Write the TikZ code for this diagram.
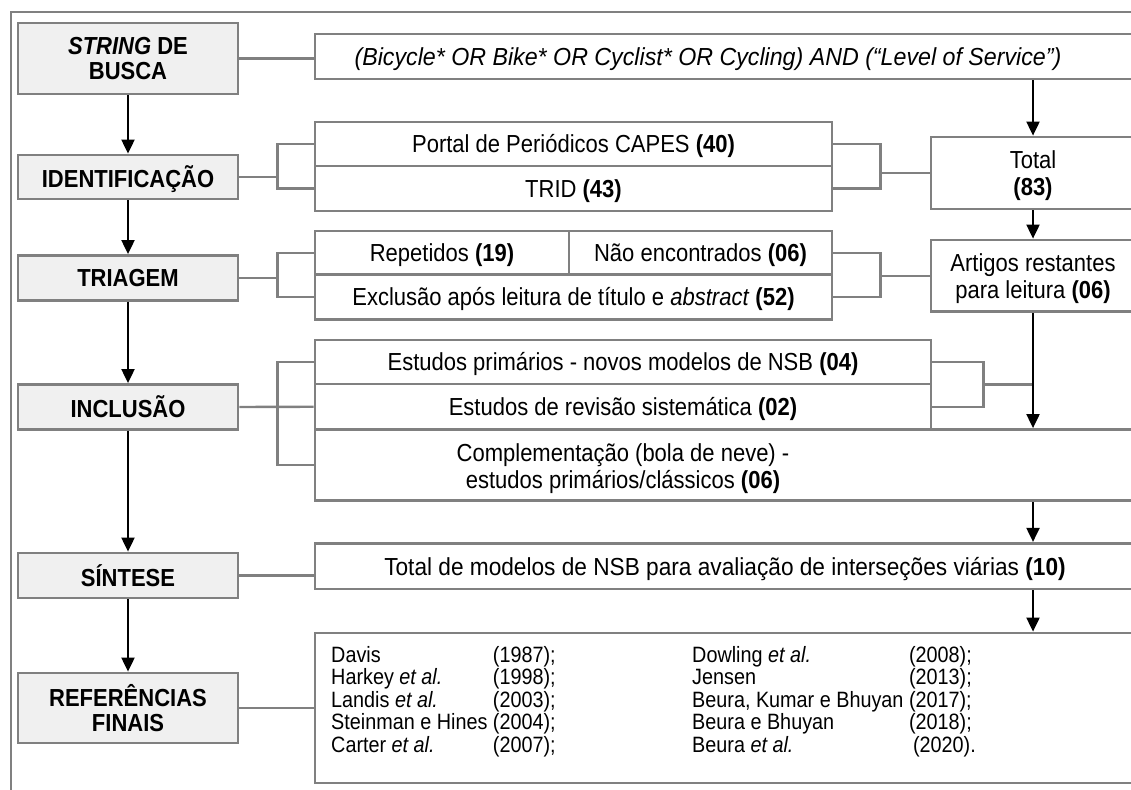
\documentclass[tikz,border=0pt]{standalone}
\usepackage{fontspec}
\usepackage{graphicx}
\setmainfont{Liberation Sans}
\usetikzlibrary{arrows.meta}
\definecolor{bord}{HTML}{808080}
\definecolor{lblfill}{HTML}{F0F0F0}
\newcommand{\vtext}[2][1]{\raisebox{-3.5pt}[\height][\depth]{\scalebox{#1}[1.12]{\begin{tabular}{@{}c@{}}#2\end{tabular}}}}
\begin{document}
\begin{tikzpicture}[x=1pt,y=-1pt,
  lbl/.style={draw=bord, fill=lblfill, line width=2.8pt, minimum width=220pt, inner sep=0pt,
              font=\fontsize{22}{22.3}\selectfont\bfseries},
  box/.style={draw=bord, fill=white, line width=2.8pt, inner sep=0pt,
              font=\fontsize{22}{24}\selectfont},
  txt/.style={inner sep=0pt, font=\fontsize{22}{24}\selectfont},
  reftxt/.style={inner sep=0pt, font=\fontsize{19.8}{19.6}\selectfont},
  conn/.style={draw=bord, line width=2.4pt},
  arr/.style={draw=black, line width=2pt, -{Triangle[length=14pt,width=13pt]}},
  frameline/.style={draw=bord, line width=2pt}
]
\useasboundingbox (0,0) rectangle (1131,789);
\clip (0,0) rectangle (1131,789);
\fill[white] (0,0) rectangle (1131,789);
\draw[frameline] (11,795) -- (11,12) -- (1140,12);

% left labels
\node[lbl, minimum height=71pt] (stringlbl) at (128,58.5) {\vtext{\textit{STRING} DE\\BUSCA}};
\node[lbl, minimum height=44pt] (identlbl) at (128,177) {\vtext{IDENTIFICAÇÃO}};
\node[lbl, minimum height=45pt] (triaglbl) at (128,278) {\vtext{TRIAGEM}};
\node[lbl, minimum height=45pt] (incllbl) at (128,407) {\vtext{INCLUSÃO}};
\node[lbl, minimum height=45pt] (sintlbl) at (128,575.5) {\vtext{SÍNTESE}};
\node[lbl, minimum height=70pt] (refslbl) at (128,708) {\vtext{REFERÊNCIAS\\FINAIS}};

% right boxes
\node[box, minimum width=820pt, minimum height=45pt] (search) at (725,56.5) {};
\node[txt] (searchT) at (708,57) {\vtext[1.055]{\itshape (Bicycle* OR Bike* OR Cyclist* OR Cycling) AND (“Level of Service”)}};

\node[box, minimum width=517pt, minimum height=44pt] (portal) at (573.5,144) {\vtext{Portal de Periódicos CAPES \textbf{(40)}}};
\node[box, minimum width=517pt, minimum height=45pt] (trid) at (573.5,188.5) {\vtext{TRID \textbf{(43)}}};
\node[box, minimum width=204pt, minimum height=72pt] (total) at (1033,173) {\vtext{Total\\\textbf{(83)}}};

\node[box, minimum width=254pt, minimum height=43.5pt] (repet) at (442,252.75) {\vtext{Repetidos \textbf{(19)}}};
\node[box, minimum width=263pt, minimum height=43.5pt] (naoenc) at (700.5,252.75) {\vtext{Não encontrados \textbf{(06)}}};
\node[box, minimum width=517pt, minimum height=45pt] (exclus) at (573.5,297) {\vtext{Exclusão após leitura de título e \textit{abstract} \textbf{(52)}}};
\node[box, minimum width=204pt, minimum height=71.7pt] (artigos) at (1033,275.85) {\vtext{Artigos restantes\\para leitura \textbf{(06)}}};

\node[box, minimum width=820pt, minimum height=71.2pt] (compl) at (725,465.1) {};
\node[txt] (complT) at (623,466) {\vtext{Complementação (bola de neve) -\\estudos primários/clássicos \textbf{(06)}}};
\node[box, minimum width=616pt, minimum height=44pt] (estprim) at (623,362) {\vtext{Estudos primários - novos modelos de NSB \textbf{(04)}}};
\node[box, minimum width=616pt, minimum height=45.5pt] (revisao) at (623,406.75) {\vtext{Estudos de revisão sistemática \textbf{(02)}}};

\node[box, minimum width=820pt, minimum height=45.7pt] (sint) at (725,566.15) {};
\node[txt] (sintT) at (725,566.5) {\vtext[1.03]{Total de modelos de NSB para avaliação de interseções viárias \textbf{(10)}}};

\node[box, minimum width=820pt, minimum height=150pt] (refs) at (725,708) {};
\node[reftxt, anchor=base west] (refsL) at (331,662) {\scalebox{1}[1.12]{\begin{tabular}[t]{@{}l@{\hspace{5.5pt}}l@{}}
Davis & (1987);\\
Harkey \textit{et al.} & (1998);\\
Landis \textit{et al.} & (2003);\\
Steinman e Hines & (2004);\\
Carter \textit{et al.} & (2007);
\end{tabular}}};
\node[reftxt, anchor=base west] (refsR) at (692,662) {\scalebox{1}[1.12]{\begin{tabular}[t]{@{}l@{\hspace{5.5pt}}l@{}}
Dowling \textit{et al.} & (2008);\\
Jensen & (2013);\\
Beura, Kumar e Bhuyan & (2017);\\
Beura e Bhuyan & (2018);\\
Beura \textit{et al.} & \hspace{4pt}(2020).
\end{tabular}}};

% left arrows
\draw[arr] (stringlbl.south) -- (identlbl.north);
\draw[arr] (identlbl.south) -- (triaglbl.north);
\draw[arr] (triaglbl.south) -- (incllbl.north);
\draw[arr] (incllbl.south) -- (sintlbl.north);
\draw[arr] (sintlbl.south) -- (refslbl.north);

% straight label connectors
\draw[conn] (stringlbl.east) -- (stringlbl.east -| search.west);
\draw[conn] (sintlbl.east) -- (sintlbl.east -| sint.west);
\draw[conn] (refslbl.east) -- (refslbl.east -| refs.west);

% left brackets
\path (identlbl.east) ++(38,0) coordinate (kI);
\draw[conn] (identlbl.east) -- (kI);
\draw[conn] (portal.west) -| (kI) |- (trid.west);

\path (triaglbl.east) ++(38,0) coordinate (kT);
\draw[conn] (triaglbl.east) -- (kT);
\draw[conn] (repet.west) -| (kT) |- (exclus.west);

\path (incllbl.east) ++(38,0) coordinate (kN);
\draw[conn] (incllbl.east) -- (revisao.west);
\draw[conn] (estprim.west) -| (kN) |- (compl.west);

% right brackets
\path (total.west) ++(-49,0) coordinate (rb1);
\draw[conn] (portal.east) -| (rb1) |- (trid.east);
\draw[conn] (rb1) -- (total.west);

\path (artigos.west) ++(-49,0) coordinate (rb2);
\draw[conn] (naoenc.east) -| (rb2) |- (exclus.east);
\draw[conn] (rb2) -- (artigos.west);

\path (estprim.east) -- (revisao.east) coordinate[pos=.5] (m3);
\path (m3) ++(51,0) coordinate (rb3);
\draw[conn] (estprim.east) -| (rb3) |- (revisao.east);
\draw[conn] (rb3) -- (rb3 -| artigos.south);

% right arrows
\draw[arr] (search.south -| total.north) -- (total.north);
\draw[arr] (total.south) -- (artigos.north);
\draw[arr] (artigos.south) -- (compl.north -| artigos.south);
\draw[arr] (compl.south -| artigos.south) -- (sint.north -| artigos.south);
\draw[arr] (sint.south -| artigos.south) -- (refs.north -| artigos.south);
\end{tikzpicture}
\end{document}
